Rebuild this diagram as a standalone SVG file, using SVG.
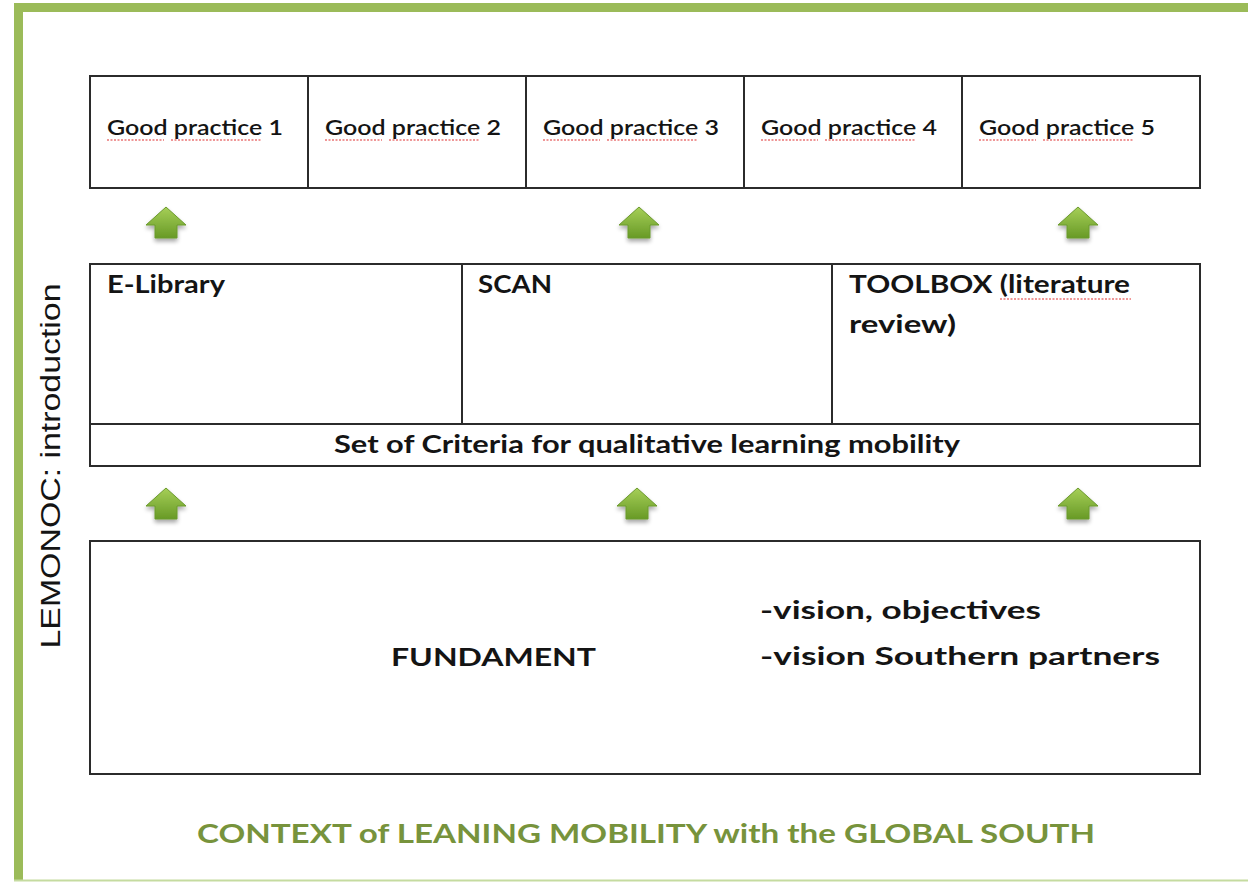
<svg xmlns="http://www.w3.org/2000/svg" width="1248" height="882" viewBox="0 0 1248 882">
<style>
.box{fill:#fff;stroke:#2b2b2b;stroke-width:2}
.line{stroke:#2b2b2b;stroke-width:2}
.t{font-family:Lato,"Liberation Sans",sans-serif;fill:#141414}
.gp{font-size:21px;font-weight:600}
.b{font-weight:bold;font-size:24px}
.sq{fill:none;stroke:#e03030;stroke-width:1.2;stroke-dasharray:2 1.5}
.arrow{fill:url(#ag);stroke:#6b9a2c;stroke-width:1;filter:url(#sh)}
</style>
<defs>
<linearGradient id="ag" x1="0" y1="0" x2="0" y2="1">
<stop offset="0" stop-color="#a6cf58"/>
<stop offset="1" stop-color="#689a26"/>
</linearGradient>
<filter id="sh" x="-30%" y="-30%" width="160%" height="170%">
<feGaussianBlur in="SourceAlpha" stdDeviation="2"/>
<feOffset dx="0" dy="3" result="o"/>
<feComponentTransfer><feFuncA type="linear" slope="0.35"/></feComponentTransfer>
<feMerge><feMergeNode/><feMergeNode in="SourceGraphic"/></feMerge>
</filter>
<path id="up" d="M0,0 L20,18 L11,18 L11,31 L-11,31 L-11,18 L-20,18 Z"/>
</defs>
<rect width="1248" height="882" fill="#fff"/>
<g id="frame">
<path d="M1260,7.5 L18.5,7.5 L18.5,880" fill="none" stroke="#9bbb59" stroke-width="9"/>
<line x1="14" y1="880.5" x2="1248" y2="880.5" stroke="#c5dba0" stroke-width="2"/>
</g>
<g id="side-label">
<text transform="translate(60,466) rotate(-90)" text-anchor="middle" font-family="'Liberation Sans',Arial,sans-serif" fill="#141414" font-size="27" textLength="365" lengthAdjust="spacingAndGlyphs">LEMONOC: introduction</text>
</g>
<g id="good-practices">
<rect class="box" x="90" y="76" width="1110" height="112"/>
<line class="line" x1="308" y1="76" x2="308" y2="188"/>
<line class="line" x1="526" y1="76" x2="526" y2="188"/>
<line class="line" x1="744" y1="76" x2="744" y2="188"/>
<line class="line" x1="962" y1="76" x2="962" y2="188"/>
<g id="gp1"><text class="t gp" x="107" y="135" textLength="176" lengthAdjust="spacingAndGlyphs">Good practice 1</text><path class="sq" d="M107,140 H164 M171,140 H262"/></g>
<g id="gp2"><text class="t gp" x="325" y="135" textLength="176" lengthAdjust="spacingAndGlyphs">Good practice 2</text><path class="sq" d="M325,140 H382 M389,140 H480"/></g>
<g id="gp3"><text class="t gp" x="543" y="135" textLength="176" lengthAdjust="spacingAndGlyphs">Good practice 3</text><path class="sq" d="M543,140 H600 M607,140 H698"/></g>
<g id="gp4"><text class="t gp" x="761" y="135" textLength="176" lengthAdjust="spacingAndGlyphs">Good practice 4</text><path class="sq" d="M761,140 H818 M825,140 H916"/></g>
<g id="gp5"><text class="t gp" x="979" y="135" textLength="176" lengthAdjust="spacingAndGlyphs">Good practice 5</text><path class="sq" d="M979,140 H1036 M1043,140 H1134"/></g>
</g>
<g id="connectors">
<use href="#up" class="arrow" x="166" y="207"/>
<use href="#up" class="arrow" x="639" y="207"/>
<use href="#up" class="arrow" x="1078" y="207"/>
<use href="#up" class="arrow" x="166" y="488"/>
<use href="#up" class="arrow" x="637" y="488"/>
<use href="#up" class="arrow" x="1078" y="488"/>
</g>
<g id="middle">
<rect class="box" x="90" y="264" width="1110" height="202"/>
<line class="line" x1="90" y1="424" x2="1200" y2="424"/>
<line class="line" x1="462" y1="264" x2="462" y2="424"/>
<line class="line" x1="832" y1="264" x2="832" y2="424"/>
<g id="elibrary"><text class="t b" x="107" y="293" textLength="118" lengthAdjust="spacingAndGlyphs">E-Library</text></g>
<g id="scan"><text class="t b" x="478" y="293" textLength="74" lengthAdjust="spacingAndGlyphs">SCAN</text></g>
<g id="toolbox"><text class="t b" x="849" y="293" textLength="281" lengthAdjust="spacingAndGlyphs">TOOLBOX (literature</text><text class="t b" x="849" y="333" textLength="107" lengthAdjust="spacingAndGlyphs">review)</text><path class="sq" d="M1000,299 H1131"/></g>
<g id="criteria"><text class="t b" x="334" y="453" textLength="626" lengthAdjust="spacingAndGlyphs">Set of Criteria for qualitative learning mobility</text></g>
</g>
<g id="fundament">
<rect class="box" x="90" y="541" width="1110" height="233"/>
<text class="t b" x="391" y="666" font-size="27" textLength="205" lengthAdjust="spacingAndGlyphs">FUNDAMENT</text>
<text class="t b" x="760" y="619" font-size="27" textLength="281" lengthAdjust="spacingAndGlyphs">-vision, objectives</text>
<text class="t b" x="760" y="665" font-size="27" textLength="400" lengthAdjust="spacingAndGlyphs">-vision Southern partners</text>
</g>
<g id="context">
<text class="t" x="197" y="843" font-size="27" font-weight="bold" style="fill:#77933c" textLength="898" lengthAdjust="spacingAndGlyphs">CONTEXT of LEANING MOBILITY with the GLOBAL SOUTH</text>
</g>
</svg>
